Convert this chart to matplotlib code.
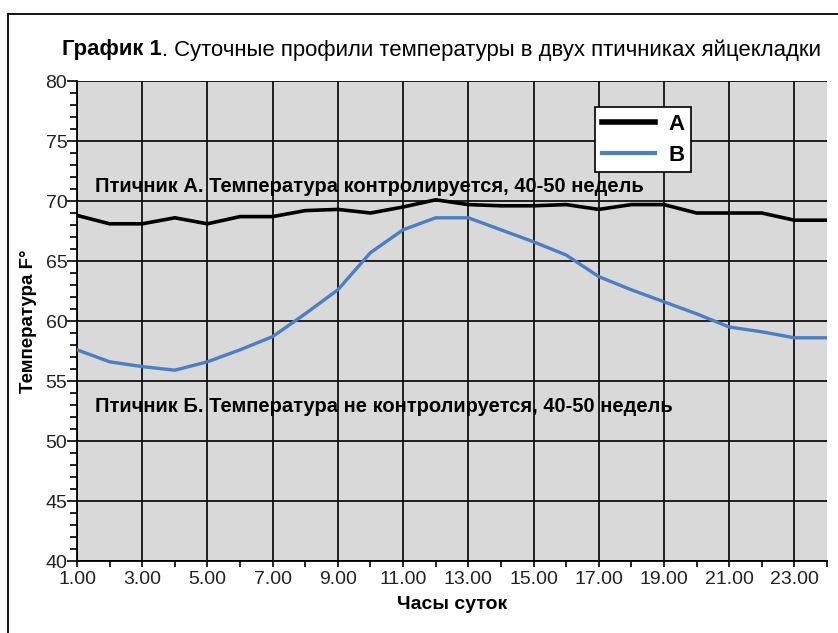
import matplotlib
matplotlib.use("Agg")
import matplotlib.pyplot as plt
from matplotlib.lines import Line2D
from matplotlib.ticker import MultipleLocator

plt.rcParams['font.family'] = ['Liberation Sans', 'DejaVu Sans']

hours = list(range(1, 25))
temp_a = [68.8, 68.1, 68.1, 68.6, 68.1, 68.7, 68.7, 69.2, 69.3, 69.0, 69.5, 70.1,
          69.7, 69.6, 69.6, 69.7, 69.3, 69.7, 69.7, 69.0, 69.0, 69.0, 68.4, 68.4]
temp_b = [57.6, 56.6, 56.2, 55.9, 56.6, 57.6, 58.7, 60.6, 62.6, 65.7, 67.6, 68.6,
          68.6, 67.6, 66.6, 65.5, 63.7, 62.6, 61.6, 60.6, 59.5, 59.1, 58.6, 58.6]
series_labels = ['A', 'B']
x_ticks = list(range(1, 24, 2))
x_tick_labels = [f"{h}.00" for h in x_ticks]
y_ticks = [40, 45, 50, 55, 60, 65, 70, 75, 80]

title_bold = "График 1"
title_rest = ". Суточные профили температуры в двух птичниках яйцекладки"
note_a = "Птичник А. Температура контролируется, 40-50 недель"
note_b = "Птичник Б. Температура не контролируется, 40-50 недель"
xlabel = "Часы суток"
ylabel = "Температура F°"

W, H = 838, 633
fig = plt.figure(figsize=(W / 100, H / 100), dpi=100)
fig.patch.set_facecolor('white')
ax = fig.add_axes([77 / W, 1 - 561 / H, (827 - 77) / W, (561 - 81) / H])
ax.set_facecolor('#d9d9d9')

ax.plot(hours, temp_a, color='black', lw=2.6, label=series_labels[0], zorder=3)
ax.plot(hours, temp_b, color='#4a7fc4', lw=2.4, label=series_labels[1], zorder=3)

ax.set_xlim(1, 24)
ax.set_ylim(40, 80)
ax.set_xticks(x_ticks)
ax.set_xticklabels(x_tick_labels, fontsize=14)
ax.xaxis.set_minor_locator(MultipleLocator(1))
ax.set_yticks(y_ticks)
ax.set_yticklabels([str(v) for v in y_ticks], fontsize=14)
ax.yaxis.set_minor_locator(MultipleLocator(1))
ax.tick_params(axis='y', which='major', length=7, width=1.2, direction='out', pad=0)
ax.tick_params(axis='y', which='minor', length=5, width=1.2, direction='out')
ax.tick_params(axis='x', which='major', length=4, width=1.2, direction='out', pad=3)
ax.tick_params(axis='x', which='minor', length=4, width=1.2, direction='out')
for lbl in ax.get_yticklabels() + ax.get_xticklabels():
    lbl.set_color('#222222')
ax.grid(True, which='major', color='#111111', lw=1.3, zorder=1)
ax.set_axisbelow(True)
ax.spines['right'].set_visible(False)
ax.spines['top'].set_visible(False)
ax.spines['left'].set_linewidth(1.3)
ax.spines['bottom'].set_linewidth(1.3)

ax.set_xlabel(xlabel, fontsize=14, fontweight='bold', labelpad=6)
ax.set_ylabel(ylabel, fontsize=13.5, fontweight='bold', labelpad=6)

ax.text(95 / W, 1 - 187 / H, note_a, transform=fig.transFigure, fontsize=14.5,
        fontweight='bold', va='center', ha='left', zorder=5)
ax.text(95 / W, 1 - 407 / H, note_b, transform=fig.transFigure, fontsize=14.5,
        fontweight='bold', va='center', ha='left', zorder=5)

# title: bold part + regular part
t1 = fig.text(62 / W, 1 - 50 / H, title_bold, fontsize=15.9, fontweight='bold',
              va='center', ha='left')
fig.canvas.draw()
bb = t1.get_window_extent()
fig.text(bb.x1 / W, 1 - 50 / H, title_rest, fontsize=15.9, va='center', ha='left')

leg = ax.legend(loc='upper right', bbox_to_anchor=(691 / W, 1 - 107 / H),
                bbox_transform=fig.transFigure, frameon=True, fancybox=False,
                framealpha=1, edgecolor='black',
                prop={'weight': 'bold', 'size': 16}, handlelength=2.4,
                borderpad=0.3, labelspacing=0.45, handletextpad=0.6,
                borderaxespad=0)
leg.get_frame().set_linewidth(1.2)
leg.set_zorder(6)
leg.get_lines()[0].set_linewidth(4)
leg.get_lines()[1].set_linewidth(3)
# widen the frame to the left, leaving empty room like the reference
fig.canvas.draw()
frame = leg.get_frame()
fb = frame.get_bbox()
extra = 18
frame.set_bounds(fb.x0 - extra, fb.y0, fb.width + extra, fb.height)

# figure border (left and top)
fig.add_artist(Line2D([8 / W, 8 / W], [0, 1 - 14 / H], transform=fig.transFigure,
                      color='black', lw=1.3))
fig.add_artist(Line2D([8 / W, 1], [1 - 14 / H, 1 - 14 / H], transform=fig.transFigure,
                      color='black', lw=1.3))

fig.savefig('out.png', dpi=100)
